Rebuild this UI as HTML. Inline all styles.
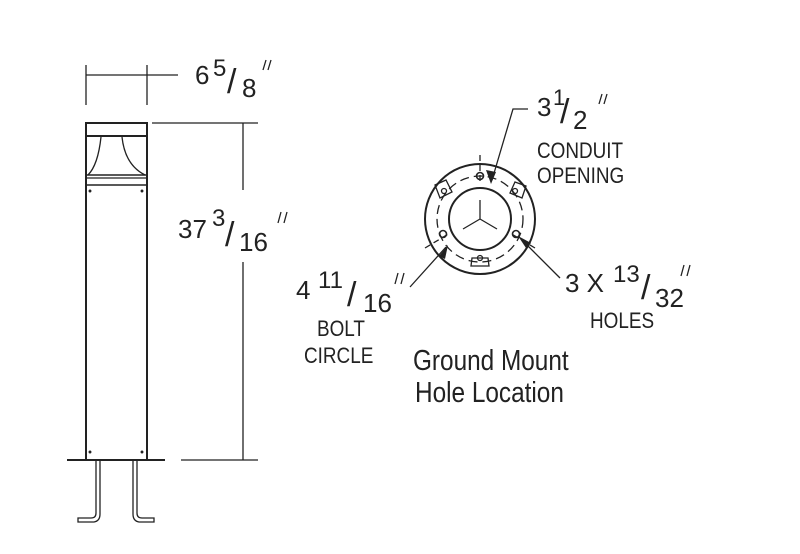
<!DOCTYPE html>
<html><head><style>
html,body{margin:0;padding:0;background:#fff;}
svg{display:block;}
text{font-family:"Liberation Sans",sans-serif;fill:#222;}
</style></head><body>
<svg width="800" height="554" viewBox="0 0 800 554" xmlns="http://www.w3.org/2000/svg">
<g stroke="#222" fill="none" stroke-width="1.3">
<line x1="86" y1="65" x2="86" y2="105"/>
<line x1="147" y1="65" x2="147" y2="105"/>
<line x1="86" y1="75" x2="178" y2="75"/>
<rect x="86" y="123" width="61" height="337" stroke-width="2"/>
<line x1="86" y1="136" x2="147" y2="136" stroke-width="2"/>
<path d="M101 137 Q98 165 88 175 M122 137 Q125 165 145 175"/>
<line x1="86" y1="175" x2="147" y2="175" stroke-width="1.6"/>
<line x1="86" y1="178" x2="147" y2="178"/>
<line x1="86" y1="185" x2="147" y2="185" stroke-width="1.6"/>
<circle cx="90" cy="191" r="0.8" fill="#222"/>
<circle cx="142" cy="191" r="0.8" fill="#222"/>
<circle cx="90" cy="452" r="0.8" fill="#222"/>
<circle cx="142" cy="452" r="0.8" fill="#222"/>
<line x1="67" y1="460" x2="165" y2="460" stroke-width="2"/>
<path d="M96 461 L96 513 Q96 518 91 518 L78 518 L78 522 L94 522 Q100 521 100 514 L100 461"/>
<path d="M133 461 L133 514 Q133 521 139 522 L154 522 L154 518 L142 518 Q137 518 137 513 L137 461"/>
<line x1="152" y1="123" x2="258" y2="123"/>
<line x1="181" y1="460" x2="258" y2="460"/>
<line x1="243" y1="123" x2="243" y2="190"/>
<line x1="243" y1="262" x2="243" y2="460"/>
<circle cx="480" cy="219" r="55" stroke-width="2"/>
<circle cx="480" cy="219" r="31" stroke-width="2"/>
<circle cx="480" cy="219" r="43" stroke-dasharray="9 5"/>
<path d="M480 219 L480 200 M480 219 L463 229 M480 219 L497 229"/>
<line x1="480" y1="155" x2="480" y2="183" stroke-dasharray="6 4"/>
<line x1="425" y1="248" x2="450" y2="233" stroke-dasharray="6 4"/>
<line x1="535" y1="248" x2="510" y2="233" stroke-dasharray="6 4"/>
<circle cx="480" cy="176" r="3.5" stroke-width="1.6"/>
<circle cx="443" cy="234" r="3.5" stroke-width="1.6"/>
<circle cx="516" cy="234" r="3.5" stroke-width="1.6"/>
<path d="M435 185 L446 180 L452 192 L440 198 Z"/>
<path d="M515 182 L526 186 L522 198 L510 193 Z"/>
<path d="M472 258 L488 258 L489 266 L471 266 Z"/>
<circle cx="444" cy="191" r="2.5"/>
<circle cx="515" cy="191" r="2.5"/>
<circle cx="480" cy="258" r="2.5"/>
<path d="M528 109 L513 109 L492 180"/>
<line x1="410" y1="287" x2="446" y2="247"/>
<line x1="560" y1="278" x2="521" y2="239"/>
<!-- quote marks as strokes -->
<path d="M266 60 L263 70 M271 60 L268 70"/>
<path d="M281 212 L278 223 M287 212 L284 223"/>
<path d="M602 94 L599 104 M607 94 L604 104"/>
<path d="M398 273 L395 284 M404 273 L401 284"/>
<path d="M684 265 L681 276 M690 265 L687 276"/>
</g>
<g fill="#222">
<polygon points="491,184 486,170 496,172"/>
<polygon points="448,245 439,256 445,259"/>
<polygon points="518,236 526,248 531,243"/>
</g>
<g>
<text x="195" y="84" font-size="26">6</text>
<text x="213" y="76" font-size="24">5</text>
<text x="227" y="93" font-size="34">/</text>
<text x="242" y="97" font-size="26">8</text>
<text x="178" y="238" font-size="26">37</text>
<text x="212" y="226" font-size="24">3</text>
<text x="225" y="246" font-size="34">/</text>
<text x="239" y="251" font-size="26">16</text>
<text x="537" y="116" font-size="26">3</text>
<text x="553" y="105" font-size="22">1</text>
<text x="560" y="123" font-size="34">/</text>
<text x="573" y="129" font-size="26">2</text>
<text x="296" y="299" font-size="26">4</text>
<text x="318" y="288" font-size="24">11</text>
<text x="347" y="306" font-size="34">/</text>
<text x="363" y="312" font-size="26">16</text>
<text x="565" y="292" font-size="26">3 X</text>
<text x="613" y="282" font-size="24">13</text>
<text x="641" y="299" font-size="34">/</text>
<text x="655" y="307" font-size="26">32</text>
</g>
<g font-size="22">
<text x="537" y="158" transform="scale(0.86 1)" transform-origin="537 158">CONDUIT</text>
<text x="537" y="183" transform="scale(0.86 1)" transform-origin="537 183">OPENING</text>
<text x="317" y="336" transform="scale(0.86 1)" transform-origin="317 336">BOLT</text>
<text x="304" y="363" transform="scale(0.86 1)" transform-origin="304 363">CIRCLE</text>
<text x="590" y="328" transform="scale(0.86 1)" transform-origin="590 328">HOLES</text>
</g>
<g font-size="29">
<text x="413" y="370" transform="scale(0.84 1)" transform-origin="413 370">Ground Mount</text>
<text x="415" y="402" transform="scale(0.84 1)" transform-origin="415 402">Hole Location</text>
</g>
</svg>
</body></html>
